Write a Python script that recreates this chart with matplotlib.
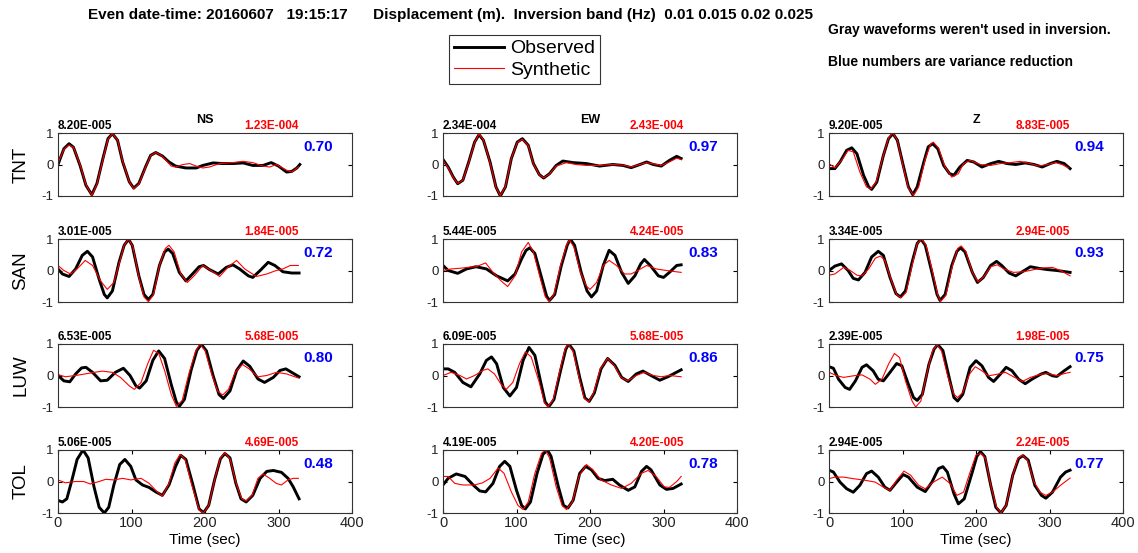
import matplotlib
matplotlib.use('Agg')
import matplotlib.pyplot as plt
from matplotlib.lines import Line2D

stations = ['TNT', 'SAN', 'LUW', 'TOL']
components = ['NS', 'EW', 'Z']

obs_amp = [['8.20E-005', '2.34E-004', '9.20E-005'],
           ['3.01E-005', '5.44E-005', '3.34E-005'],
           ['6.53E-005', '6.09E-005', '2.39E-005'],
           ['5.06E-005', '4.19E-005', '2.94E-005']]
syn_amp = [['1.23E-004', '2.43E-004', '8.83E-005'],
           ['1.84E-005', '4.24E-005', '2.94E-005'],
           ['5.68E-005', '5.68E-005', '1.98E-005'],
           ['4.69E-005', '4.20E-005', '2.24E-005']]
var_red = [[0.70, 0.97, 0.94],
           [0.72, 0.83, 0.93],
           [0.80, 0.86, 0.75],
           [0.48, 0.78, 0.77]]

# normalised displacement traces, (time sec, value)
tnt_ns_obs = [(0, 0.0), (8, 0.5), (15, 0.66), (21, 0.55), (30, -0.03), (38, -0.66), (46, -0.96), (53, -0.6),
              (61, 0.18), (68, 0.82), (74, 0.98), (81, 0.77), (88, 0.08), (97, -0.55), (103, -0.75), (110, -0.6),
              (119, -0.08), (126, 0.29), (133, 0.38), (142, 0.27), (151, 0.08), (160, -0.05), (174, -0.11),
              (188, -0.11), (197, -0.03), (211, 0.05), (224, 0.03), (238, 0.03), (252, 0.05), (265, -0.03),
              (279, -0.03), (290, 0.06), (300, -0.05), (311, -0.24), (318, -0.22), (325, -0.11), (329, 0.0)]
tnt_ns_syn = [(0, 0.05), (8, 0.48), (15, 0.62), (21, 0.55), (30, 0.0), (38, -0.64), (46, -0.98), (53, -0.62),
              (61, 0.15), (68, 0.8), (74, 0.98), (81, 0.78), (88, 0.1), (97, -0.55), (103, -0.77), (110, -0.62),
              (119, -0.1), (126, 0.28), (133, 0.38), (140, 0.3), (147, 0.13), (154, -0.05), (160, -0.08),
              (170, 0.0), (179, 0.03), (188, -0.05), (197, -0.11), (206, -0.08), (220, 0.03), (238, 0.06),
              (252, 0.1), (265, 0.06), (279, -0.05), (288, -0.08), (297, 0.0), (311, -0.18), (318, -0.24),
              (327, -0.08)]

san_ns_obs = [(0, 0.05), (6, -0.11), (15, -0.19), (24, 0.05), (33, 0.48), (40, 0.61), (47, 0.43), (56, -0.28),
              (63, -0.76), (67, -0.87), (74, -0.65), (83, 0.26), (90, 0.8), (96, 0.99), (101, 0.8), (110, -0.17),
              (117, -0.76), (123, -0.92), (129, -0.76), (138, 0.16), (145, 0.59), (150, 0.68), (156, 0.54),
              (165, -0.06), (174, -0.33), (183, -0.11), (192, 0.12), (198, 0.16), (206, 0.03), (218, -0.11),
              (229, 0.1), (238, 0.18), (247, 0.05), (259, -0.17), (265, -0.22), (275, 0.0), (286, 0.26),
              (295, 0.16), (306, -0.04), (318, -0.08), (328, -0.08)]
san_ns_syn = [(0, 0.16), (8, 0.0), (17, -0.11), (26, 0.05), (37, 0.32), (47, 0.16), (58, -0.33), (67, -0.6),
              (76, -0.38), (83, 0.2), (90, 0.8), (96, 1.0), (102, 0.75), (110, -0.22), (117, -0.84), (123, -0.99),
              (130, -0.76), (138, 0.16), (146, 0.7), (151, 0.8), (158, 0.59), (167, -0.11), (176, -0.38),
              (186, -0.15), (197, 0.16), (208, 0.0), (220, -0.19), (231, 0.1), (243, 0.32), (254, 0.05),
              (270, -0.19), (284, -0.11), (297, 0.0), (306, 0.05), (316, 0.16), (327, 0.16)]

luw_ns_obs = [(0, 0.0), (8, -0.17), (16, -0.2), (24, 0.05), (32, 0.24), (38, 0.26), (47, 0.1), (58, -0.17),
              (67, -0.15), (78, 0.1), (89, 0.23), (98, 0.0), (106, -0.33), (111, -0.4), (120, -0.17), (129, 0.48),
              (137, 0.78), (145, 0.54), (154, -0.28), (161, -0.84), (165, -0.98), (172, -0.76), (181, 0.16),
              (189, 0.8), (195, 0.99), (202, 0.78), (211, 0.0), (219, -0.6), (225, -0.73), (234, -0.49),
              (243, 0.16), (252, 0.46), (261, 0.29), (272, -0.11), (281, -0.22), (293, -0.06), (302, 0.16),
              (310, 0.21), (320, 0.07), (328, -0.04)]
luw_ns_syn = [(0, 0.03), (10, -0.04), (24, 0.0), (42, 0.07), (60, 0.14), (74, 0.1), (85, -0.06), (97, -0.33),
              (104, -0.44), (113, -0.22), (122, 0.37), (130, 0.8), (137, 0.7), (145, 0.16), (154, -0.6),
              (161, -0.98), (169, -0.79), (178, 0.05), (187, 0.75), (193, 1.0), (200, 0.8), (209, 0.05),
              (217, -0.49), (224, -0.62), (232, -0.44), (241, 0.1), (251, 0.35), (260, 0.21), (272, -0.04),
              (284, 0.0), (297, 0.1), (311, 0.05), (327, -0.08)]

tol_ns_obs = [(0, -0.6), (6, -0.65), (12, -0.55), (19, 0.05), (26, 0.7), (34, 1.0), (41, 0.75), (49, -0.17),
              (56, -0.82), (63, -1.0), (69, -0.82), (76, -0.11), (84, 0.54), (91, 0.7), (99, 0.48), (106, 0.05),
              (115, -0.11), (124, -0.19), (133, -0.33), (142, -0.44), (151, -0.11), (160, 0.48), (167, 0.83),
              (174, 0.7), (183, -0.06), (192, -0.87), (198, -0.99), (205, -0.76), (213, 0.05), (221, 0.72),
              (227, 0.89), (234, 0.75), (242, -0.06), (249, -0.55), (256, -0.65), (265, -0.44), (275, 0.1),
              (284, 0.32), (293, 0.35), (304, 0.29), (313, 0.1), (320, -0.17), (328, -0.55)]
tol_ns_syn = [(0, 0.05), (10, -0.04), (24, 0.0), (35, 0.0), (44, -0.08), (56, 0.0), (65, 0.07), (76, 0.05),
              (88, 0.1), (99, 0.05), (113, 0.1), (124, -0.06), (135, -0.33), (142, -0.47), (151, -0.06),
              (159, 0.59), (166, 0.86), (173, 0.7), (182, -0.11), (192, -0.9), (198, -1.0), (205, -0.76),
              (213, 0.05), (221, 0.75), (227, 0.91), (234, 0.72), (243, -0.11), (250, -0.55), (256, -0.62),
              (264, -0.44), (272, 0.1), (279, 0.24), (288, 0.1), (297, -0.06), (304, -0.11), (313, 0.05),
              (320, 0.1), (327, 0.1)]

tnt_ew_obs = [(0, 0.16), (7, -0.08), (14, -0.4), (20, -0.61), (27, -0.5), (35, 0.08), (43, 0.71), (49, 0.95),
              (55, 0.77), (64, 0.08), (72, -0.71), (78, -1.0), (85, -0.71), (93, 0.19), (101, 0.71), (108, 0.82),
              (116, 0.61), (123, 0.03), (131, -0.32), (137, -0.43), (145, -0.29), (154, -0.03), (163, 0.11),
              (177, 0.06), (195, 0.03), (213, -0.05), (231, 0.0), (245, -0.03), (256, -0.1), (268, 0.0),
              (277, 0.08), (286, 0.0), (297, -0.05), (308, 0.13), (318, 0.26), (324, 0.19)]
tnt_ew_syn = [(0, 0.13), (7, -0.1), (14, -0.42), (20, -0.6), (27, -0.5), (35, 0.06), (43, 0.7), (49, 0.97),
              (55, 0.78), (64, 0.06), (72, -0.72), (78, -0.99), (85, -0.7), (93, 0.2), (101, 0.7), (108, 0.8),
              (116, 0.6), (123, 0.02), (131, -0.33), (137, -0.42), (145, -0.3), (154, -0.05), (168, 0.06),
              (181, 0.0), (195, -0.03), (213, -0.03), (231, 0.0), (245, -0.02), (256, -0.08), (268, 0.0),
              (277, 0.06), (286, 0.02), (297, -0.03), (308, 0.08), (318, 0.2), (324, 0.16)]

san_ew_obs = [(0, 0.16), (7, 0.0), (20, -0.09), (32, 0.05), (45, 0.12), (59, 0.05), (73, -0.17), (88, -0.33),
              (98, -0.11), (107, 0.37), (113, 0.64), (118, 0.72), (125, 0.54), (134, -0.22), (141, -0.82),
              (145, -0.95), (152, -0.76), (161, 0.16), (169, 0.8), (173, 1.0), (179, 0.8), (188, -0.06),
              (196, -0.65), (202, -0.84), (209, -0.65), (218, 0.16), (226, 0.64), (234, 0.48), (243, -0.06),
              (252, -0.41), (261, -0.17), (269, 0.21), (274, 0.35), (282, 0.16), (293, -0.17), (300, -0.22),
              (309, -0.04), (318, 0.16), (324, 0.18)]
san_ew_syn = [(0, 0.0), (11, 0.05), (23, 0.07), (34, 0.1), (45, 0.12), (58, 0.24), (68, -0.06), (79, -0.33),
              (88, -0.51), (98, -0.17), (107, 0.59), (116, 0.89), (123, 0.59), (132, -0.22), (139, -0.82),
              (144, -0.98), (151, -0.76), (160, 0.16), (168, 0.8), (172, 0.97), (178, 0.75), (187, -0.06),
              (195, -0.49), (200, -0.6), (209, -0.38), (218, 0.16), (226, 0.32), (236, 0.16), (247, -0.11),
              (256, -0.11), (265, 0.0), (277, 0.16), (290, 0.05), (304, 0.0), (324, -0.06)]

luw_ew_obs = [(0, 0.21), (7, 0.21), (16, 0.1), (27, -0.22), (38, -0.36), (50, 0.05), (59, 0.48), (66, 0.59),
              (73, 0.37), (82, -0.38), (91, -0.65), (100, -0.38), (109, 0.48), (117, 0.89), (125, 0.64),
              (133, -0.22), (139, -0.84), (144, -0.99), (151, -0.76), (160, 0.16), (167, 0.83), (171, 1.0),
              (178, 0.78), (186, -0.06), (193, -0.71), (199, -0.82), (206, -0.55), (215, 0.21), (224, 0.54),
              (234, 0.32), (243, -0.06), (252, -0.19), (263, 0.05), (272, 0.14), (283, 0.0), (295, -0.15),
              (306, -0.04), (315, 0.07), (324, 0.18)]
luw_ew_syn = [(0, 0.0), (11, 0.1), (23, 0.0), (32, -0.11), (43, 0.0), (54, 0.16), (61, 0.21), (70, 0.05),
              (79, -0.28), (86, -0.44), (95, -0.22), (104, 0.37), (112, 0.75), (120, 0.59), (131, -0.22),
              (138, -0.87), (143, -0.99), (150, -0.76), (159, 0.16), (166, 0.83), (170, 1.0), (177, 0.78),
              (185, -0.06), (192, -0.71), (198, -0.84), (205, -0.55), (214, 0.21), (224, 0.54), (233, 0.32),
              (242, -0.06), (251, -0.17), (263, 0.0), (274, 0.1), (286, 0.0), (297, -0.04), (308, 0.0),
              (324, -0.04)]

tol_ew_obs = [(0, -0.11), (7, 0.1), (18, 0.24), (30, 0.16), (41, -0.11), (50, -0.3), (58, -0.33), (68, -0.06),
              (77, 0.48), (84, 0.64), (91, 0.48), (100, -0.28), (107, -0.76), (112, -0.87), (119, -0.65),
              (128, 0.26), (136, 0.86), (142, 1.0), (147, 0.8), (157, -0.17), (164, -0.76), (170, -0.84),
              (177, -0.6), (186, 0.26), (194, 0.48), (202, 0.37), (211, 0.1), (220, 0.03), (231, 0.07),
              (240, -0.11), (252, -0.28), (261, -0.17), (270, 0.32), (277, 0.48), (283, 0.37), (295, -0.11),
              (304, -0.25), (313, -0.22), (324, -0.08)]
tol_ew_syn = [(0, 0.16), (7, 0.16), (16, -0.06), (27, -0.11), (43, -0.11), (54, -0.04), (64, 0.1), (75, 0.43),
              (83, 0.26), (93, -0.33), (102, -0.76), (109, -0.89), (116, -0.65), (125, 0.26), (134, 0.89),
              (139, 1.0), (145, 0.75), (154, -0.17), (162, -0.76), (168, -0.89), (176, -0.65), (185, 0.16),
              (195, 0.54), (204, 0.37), (215, 0.05), (229, -0.11), (243, -0.22), (256, -0.06), (270, 0.26),
              (279, 0.35), (290, 0.16), (301, -0.17), (308, -0.19), (318, 0.0), (324, 0.16)]

tnt_z_obs = [(0, -0.13), (8, -0.13), (15, 0.08), (24, 0.45), (31, 0.53), (38, 0.34), (47, -0.34), (54, -0.71),
             (58, -0.79), (65, -0.56), (74, 0.29), (81, 0.82), (87, 0.98), (93, 0.77), (101, -0.03), (108, -0.71),
             (114, -0.96), (120, -0.71), (129, 0.08), (135, 0.56), (141, 0.66), (148, 0.5), (156, -0.03),
             (164, -0.29), (170, -0.34), (178, -0.08), (188, 0.13), (197, 0.08), (208, -0.08), (220, 0.03),
             (231, 0.1), (242, 0.03), (254, 0.0), (267, 0.05), (279, 0.0), (290, -0.08), (301, 0.03),
             (310, 0.1), (320, 0.03), (328, -0.13)]
tnt_z_syn = [(0, 0.03), (8, -0.11), (17, 0.13), (26, 0.45), (33, 0.4), (42, -0.24), (51, -0.71), (57, -0.77),
             (64, -0.56), (74, 0.29), (81, 0.84), (87, 1.0), (93, 0.77), (101, -0.08), (108, -0.75), (115, -0.98),
             (122, -0.71), (131, 0.18), (138, 0.63), (142, 0.71), (149, 0.52), (158, -0.08), (167, -0.4),
             (176, -0.29), (183, 0.03), (192, 0.13), (206, 0.0), (220, -0.03), (233, 0.03), (247, 0.06),
             (260, 0.1), (274, 0.03), (285, -0.05), (297, 0.0), (308, 0.06), (317, 0.0), (326, -0.11)]

san_z_obs = [(0, 0.0), (8, 0.14), (17, 0.21), (26, 0.0), (33, -0.25), (40, -0.3), (49, -0.06), (58, 0.43),
             (67, 0.61), (74, 0.48), (83, -0.22), (91, -0.73), (97, -0.84), (104, -0.65), (113, 0.26),
             (120, 0.86), (125, 1.0), (131, 0.8), (140, -0.06), (147, -0.76), (151, -0.95), (158, -0.76),
             (167, 0.16), (174, 0.61), (179, 0.72), (185, 0.59), (195, -0.06), (202, -0.38), (210, -0.22),
             (220, 0.16), (228, 0.29), (235, 0.16), (245, -0.08), (254, -0.17), (263, -0.04), (274, 0.12),
             (285, 0.07), (297, 0.03), (310, 0.0), (328, -0.06)]
san_z_syn = [(0, -0.15), (8, -0.11), (20, 0.1), (29, 0.0), (38, -0.15), (45, -0.17), (54, 0.05), (63, 0.39),
             (70, 0.46), (76, 0.32), (85, -0.33), (92, -0.76), (98, -0.87), (105, -0.69), (114, 0.26),
             (120, 0.86), (126, 1.0), (132, 0.8), (141, -0.06), (148, -0.79), (152, -0.98), (159, -0.79),
             (168, 0.16), (175, 0.7), (180, 0.78), (186, 0.61), (195, -0.06), (203, -0.36), (211, -0.19),
             (220, 0.12), (229, 0.18), (238, 0.05), (251, -0.06), (265, -0.04), (279, 0.03), (292, 0.08),
             (304, 0.1), (315, 0.0), (328, -0.17)]

luw_z_obs = [(0, 0.28), (6, 0.23), (13, -0.12), (22, -0.38), (28, -0.44), (36, -0.17), (45, 0.26), (51, 0.34),
             (60, 0.15), (67, -0.12), (74, -0.17), (83, 0.1), (92, 0.38), (99, 0.31), (108, -0.28), (115, -0.7),
             (120, -0.79), (127, -0.6), (136, 0.36), (143, 0.84), (148, 0.98), (155, 0.79), (164, -0.12),
             (170, -0.7), (175, -0.81), (182, -0.6), (192, 0.26), (200, 0.47), (208, 0.31), (217, -0.06),
             (224, -0.19), (233, 0.04), (241, 0.26), (249, 0.15), (258, -0.12), (267, -0.26), (276, -0.12),
             (288, 0.04), (295, 0.1), (304, -0.01), (310, -0.03), (320, 0.15), (328, 0.28)]
luw_z_syn = [(0, 0.1), (11, -0.01), (20, -0.06), (33, -0.01), (45, 0.02), (56, -0.12), (63, -0.28), (72, -0.12),
             (81, 0.36), (89, 0.7), (96, 0.57), (104, -0.17), (113, -0.81), (118, -1.0), (125, -0.81),
             (134, 0.15), (141, 0.79), (147, 0.97), (153, 0.79), (162, -0.06), (170, -0.6), (175, -0.7),
             (182, -0.54), (191, 0.04), (199, 0.28), (208, 0.15), (217, -0.01), (229, 0.04), (240, 0.1),
             (251, -0.04), (263, -0.19), (274, -0.06), (288, 0.04), (299, 0.06), (310, -0.01), (320, 0.06),
             (328, 0.1)]

tol_z_obs = [(0, 0.36), (6, 0.3), (15, -0.02), (24, -0.23), (33, -0.34), (42, -0.12), (51, 0.25), (58, 0.33),
             (67, 0.14), (76, -0.18), (83, -0.28), (92, -0.02), (101, 0.22), (108, 0.14), (120, -0.18),
             (131, -0.32), (140, -0.02), (149, 0.41), (155, 0.47), (161, 0.3), (170, -0.39), (176, -0.71),
             (184, -0.55), (195, 0.3), (201, 0.79), (206, 0.95), (212, 0.79), (220, -0.12), (227, -0.82),
             (234, -1.0), (241, -0.76), (250, 0.2), (258, 0.73), (264, 0.82), (271, 0.68), (280, -0.12),
             (289, -0.44), (295, -0.53), (304, -0.34), (315, 0.14), (322, 0.3), (328, 0.36)]
tol_z_syn = [(0, 0.09), (8, 0.14), (20, 0.14), (33, 0.09), (49, 0.04), (63, -0.02), (74, -0.18), (83, -0.28),
             (92, 0.04), (102, 0.33), (111, 0.2), (122, -0.12), (131, -0.23), (142, -0.02), (154, 0.14),
             (165, -0.07), (174, -0.44), (183, -0.34), (192, 0.3), (200, 0.84), (207, 0.89), (213, 0.73),
             (220, -0.12), (228, -0.82), (234, -1.0), (241, -0.76), (250, 0.2), (257, 0.73), (263, 0.84),
             (270, 0.68), (279, -0.02), (287, -0.34), (295, -0.44), (304, -0.34), (315, -0.12), (328, 0.11)]

traces = [[(tnt_ns_obs, tnt_ns_syn), (tnt_ew_obs, tnt_ew_syn), (tnt_z_obs, tnt_z_syn)],
          [(san_ns_obs, san_ns_syn), (san_ew_obs, san_ew_syn), (san_z_obs, san_z_syn)],
          [(luw_ns_obs, luw_ns_syn), (luw_ew_obs, luw_ew_syn), (luw_z_obs, luw_z_syn)],
          [(tol_ns_obs, tol_ns_syn), (tol_ew_obs, tol_ew_syn), (tol_z_obs, tol_z_syn)]]

W, H = 1138, 553
fig = plt.figure(figsize=(W / 100, H / 100), dpi=100)
plt.rcParams['font.family'] = ['Liberation Sans', 'DejaVu Sans']

# panel layout in pixels
col_left = [58, 443, 829]
row_top = [133, 239, 344, 450]
pw, ph = 294, 63

for i, st in enumerate(stations):
    for j, comp in enumerate(components):
        ax = fig.add_axes([col_left[j] / W, 1 - (row_top[i] + ph) / H, pw / W, ph / H])
        obs, syn = traces[i][j]
        ax.plot([p[0] for p in obs], [p[1] for p in obs], color='black', lw=2.1,
                solid_joinstyle='round')
        ax.plot([p[0] for p in syn], [p[1] for p in syn], color='red', lw=0.8)
        ax.set_xlim(0, 400)
        ax.set_ylim(-1, 1)
        ax.set_yticks([-1, 0, 1])
        ax.set_yticklabels(['-1', '0', '1'])
        ax.tick_params(direction='in', right=True, top=True, length=3, labelsize=9.5,
                       labelcolor='#222222', pad=3)
        for sp in ax.spines.values():
            sp.set_linewidth(0.8)
            sp.set_color('#333333')
        if i == len(stations) - 1:
            ax.set_xticks([0, 100, 200, 300, 400])
            ax.tick_params(axis='x', labelsize=10.5, pad=2)
            ax.set_xlabel('Time (sec)', fontsize=11, labelpad=2)
        else:
            ax.set_xticks([])
        if i == 0:
            ax.text(0.5, 1.2, comp, transform=ax.transAxes, ha='center', va='center',
                    fontsize=9, fontweight='bold')
        ax.text(0.0, 1.02, obs_amp[i][j], transform=ax.transAxes, ha='left', va='bottom',
                fontsize=8.5, fontweight='bold', color='black')
        ax.text(0.82, 1.02, syn_amp[i][j], transform=ax.transAxes, ha='right', va='bottom',
                fontsize=8.5, fontweight='bold', color='red')
        ax.text(0.885, 0.78, f'{var_red[i][j]:.2f}', transform=ax.transAxes, ha='center', va='center',
                fontsize=11, fontweight='bold', color='blue')
        if j == 0:
            fig.text(21 / W, 1 - (row_top[i] + ph / 2) / H, st, rotation=90, ha='center', va='center',
                     fontsize=13.5)

fig.text(88 / W, 1 - 15 / H,
         'Even date-time: 20160607   19:15:17      Displacement (m).  Inversion band (Hz)  0.01 0.015 0.02 0.025',
         ha='left', va='center', fontsize=11, fontweight='bold')
fig.text(828 / W, 1 - 30 / H, "Gray waveforms weren't used in inversion.", ha='left', va='center',
         fontsize=10, fontweight='bold')
fig.text(828 / W, 1 - 62 / H, 'Blue numbers are variance reduction', ha='left', va='center',
         fontsize=10, fontweight='bold')

handles = [Line2D([], [], color='black', lw=2.1), Line2D([], [], color='red', lw=0.8)]
leg = fig.legend(handles, ['Observed', 'Synthetic'], loc='upper left', bbox_to_anchor=(449 / W, 1 - 35 / H),
                 frameon=True, fancybox=False, edgecolor='black', fontsize=14, handlelength=2.6,
                 handletextpad=0.3, labelspacing=0.2, borderpad=0.25, borderaxespad=0)
leg.get_frame().set_linewidth(0.8)

fig.savefig('out.png', dpi=100)
